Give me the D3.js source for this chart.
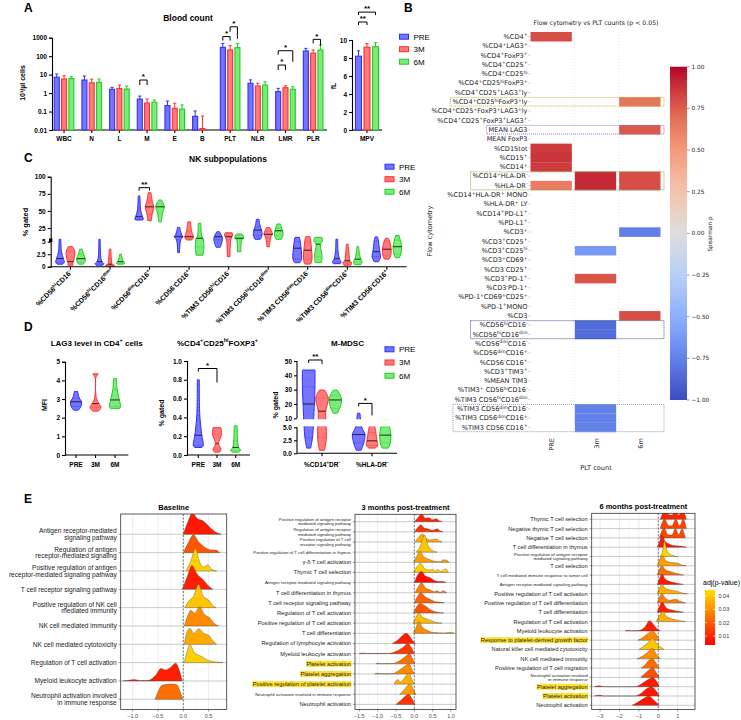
<!DOCTYPE html>
<html lang="en">
<head>
<meta charset="UTF-8">
<title>Blood count, flow cytometry and GSEA ridges</title>
<script src="https://d3js.org/d3.v7.min.js"></script>
<style>
  body { margin: 0; background: #fff; }
  svg { display: block; }
</style>
</head>
<body>
<svg id="fig"></svg>
<script>
// ---------------- data ----------------
// A: blood count (10^3/ul, log axis)
const bcCats   = ["WBC", "N", "L", "M", "E", "B", "PLT", "NLR", "LMR", "PLR"];
const bcPre    = [7.3, 5.1, 1.6, 0.47, 0.21, 0.055, 300, 3.4, 1.2, 190];
const bc3m     = [5.8, 3.6, 1.75, 0.29, 0.15, 0.012, 215, 2.4, 1.95, 145];
const bc6m     = [6.1, 3.8, 1.65, 0.32, 0.135, null, 290, 2.7, 1.6, 215];
const bcPreErr = [10.8, 8.4, 2.05, 0.69, 0.37, 0.107, 490, 5.2, 1.8, 265];
const bc3mErr  = [8.7, 5.6, 2.7, 0.48, 0.28, 0.057, 370, 3.4, 2.5, 215];
const bc6mErr  = [7.7, 5.8, 2.4, 0.42, 0.23, null, 490, 4.1, 2.2, 400];
const bcSig = [
  {cat: 3, a: 0, b: 1, y: 5.1,  la: 5, lb: 5,  txt: "*"},
  {cat: 6, a: 0, b: 1, y: 1150, la: 4, lb: 4,  txt: "*"},
  {cat: 6, a: 1, b: 2, y: 3900, la: 5, lb: 12, txt: "*"},
  {cat: 8, a: 0, b: 1, y: 33,   la: 5, lb: 5,  txt: "*"},
  {cat: 8, a: 0, b: 2, y: 197,  la: 4, lb: 11, txt: "*"},
  {cat: 9, a: 1, b: 2, y: 815,  la: 4, lb: 6,  txt: "*"}
];
const mpvVals = [8.2, 9.2, 9.25];
const mpvErr  = [8.8, 9.6, 9.7];
const mpvSig  = [{a: 0, b: 2, y: 13.1, txt: "**"}, {a: 0, b: 1, y: 12.0, txt: "**"}];
const groups  = ["PRE", "3M", "6M"];

// C: NK subpopulations, violins as [min, q1, median, q3, max]
const nkCats = ["%CD56^{hi}CD16^{-}", "%CD56^{hi}CD16^{dim}", "%CD56^{dim}CD16^{+}", "%CD56^{-}CD16^{+}",
  "%TIM3 CD56^{hi}CD16^{-}", "%TIM3 CD56^{hi}CD16^{dim}", "%TIM3 CD56^{dim}CD16^{-}",
  "%TIM3 CD56^{dim}CD16^{+}", "%TIM3 CD56^{-}CD16^{+}"];
const nkPre = [[0.5,0.9,1.6,3.0,8.5],[0.3,0.6,1.0,1.8,8.5],[36.7,38,41.5,50,71.8],[2.8,8,12.3,15,26],
  [3.9,8,12.3,15,19.6],[8.5,14,22,27,37.7],[0.8,1.5,3.7,5.5,11.4],[0.6,0.9,1.6,3,8.5],[1,2,3,6,12]];
const nk3m  = [[0.3,0.6,1.0,3.0,4.0],[0.13,0.3,0.5,1.5,3.5],[35.7,45,56,62,76.6],[7.5,10,12.3,20,34],
  [2,8,12.3,15,18],[4,12,15.8,20,25.5],[0.53,1.5,3.3,5,12.3],[0.3,0.8,1.2,2.5,4.5],[1.5,2.2,3.5,6,10]];
const nk6m  = [[0.5,0.9,1.6,2.5,3.5],[0.5,0.7,1.0,1.6,2.5],[34,47,56,60,66],[2.3,4,10,13,32],
  [3,8,10,14,16.3],[8.5,14,21,25,30.9],[0.8,2,4.5,5.5,11.4],[0.4,0.9,1.5,2.5,4],[1.8,2.5,4,7,14]];
// relative violin widths at [min, q1, median, q3, max]
const nkPreW = [[0.6,1,0.8,0.35,0.2],[0.8,1,0.6,0.3,0.15],[0.8,1,0.8,0.4,0.2],[0.2,0.5,1,0.7,0.25],
  [0.5,1,0.9,0.7,0.3],[0.6,1,0.9,0.6,0.3],[0.6,1,0.9,0.7,0.5],[0.8,1,0.6,0.3,0.2],[0.5,1,0.8,0.5,0.3]];
const nk3mW  = [[0.6,0.5,0.7,1,0.5],[0.9,1,0.5,0.3,0.2],[0.4,0.6,1,0.7,0.3],[0.6,0.9,1,0.6,0.3],
  [0.3,0.5,0.8,1,0.8],[0.3,0.6,1,0.8,0.4],[0.7,1,0.9,0.7,0.5],[0.8,1,0.6,0.4,0.2],[0.5,0.9,1,0.6,0.3]];
const nk6mW  = [[0.5,0.9,1,0.6,0.3],[0.7,1,0.7,0.4,0.2],[0.3,0.6,1,0.8,0.3],[0.8,1,0.8,0.5,0.3],
  [0.4,0.6,1,0.9,0.6],[0.6,1,0.9,0.7,0.4],[0.7,0.9,0.5,1,0.8],[0.7,1,0.7,0.4,0.2],[0.5,0.8,1,0.7,0.4]];
const nkSig = [{cat: 2, a: 0, b: 1, y: 84, txt: "**"}];

// D
const lagPre = [2.4,2.6,2.85,3.05,3.4], lag3m = [2.35,2.55,2.75,2.95,4.35], lag6m = [2.5,2.6,2.95,3.5,4.1];
const lagW = [[0.4,0.9,1,0.6,0.3],[0.5,1,0.6,0.12,0.35],[0.9,1,0.8,0.4,0.25]];
// the 3M LAG3 violin has a long thin tail: explicit outline [value, relative width]
const lag3mOutline = [[2.35,0.5],[2.55,1],[2.75,0.65],[2.95,0.25],[3.25,0.07],[4.15,0.07],[4.35,0.5]];
const tregPre = [0.08,0.1,0.21,0.42,0.8], treg3m = [0.03,0.06,0.12,0.22,0.29], treg6m = [0.03,0.05,0.08,0.15,0.31];
const tregW = [[0.7,1,0.7,0.3,0.2],[0.5,0.8,0.3,0.9,0.8],[0.6,1,0.6,0.4,0.3]];
const tregSig = {a: 0, b: 1, y: 0.92, la: 3, lb: 14, txt: "*"};
const mdscCats = ["%CD14^{+}DR^{-}", "%HLA-DR^{-}"];
const mdscPre = [[1,3,20,32,43.7],[0.6,2,3.6,5,13.5]];
const mdsc3m  = [[0.6,3,15,24,29.7],[1,1.5,2.4,4,6.3]];
const mdsc6m  = [[13.5,17,22.8,26,29.7],[1,2,3.5,5,9]];
const mdscW = [[[0.3,0.6,0.9,1,1],[0.4,0.7,0.6,1,0.4],[0.3,0.7,1,0.8,0.3]],
               [[0.4,0.8,1,0.5,0.2],[0.5,0.9,0.8,0.6,0.4],[0.5,0.8,0.9,0.7,0.4]]];
const mdscSig = [{cat: 0, a: 0, b: 1, y: 50.7, la: 3, lb: 4, txt: "**"}, {cat: 1, a: 0, b: 1, y: 20.4, la: 3, lb: 12, txt: "*"}];

// B: Spearman rho heatmap
const hmRows = ["%CD4^{+}", "%CD4^{+}LAG3^{+}", "%CD4^{+}FoxP3^{+}", "%CD4^{+}CD25^{+}", "%CD4^{+}CD25^{hi}",
  "%CD4^{+}CD25^{hi}FoxP3^{+}", "%CD4^{+}CD25^{+}LAG3^{+}ly", "%CD4^{+}CD25^{hi}FoxP3^{+}ly",
  "%CD4^{+}CD25^{+}FoxP3^{+}LAG3^{+}ly", "%CD4^{+}CD25^{+}FoxP3^{+}LAG3^{+}", "MEAN LAG3", "MEAN FoxP3",
  "%CD15tot", "%CD15^{+}", "%CD14^{+}", "%CD14^{+}HLA-DR^{-}", "%HLA-DR^{-}", "%CD14^{+}HLA-DR^{+} MONO",
  "%HLA-DR^{+} LY", "%CD14^{+}PD-L1^{+}", "%PD-L1^{+}", "%CD3^{+}", "%CD3^{+}CD25^{+}", "%CD3^{+}CD25^{hi}",
  "%CD3^{+}CD69^{+}", "%CD3^{-}CD25^{+}", "%CD3^{+}PD-1^{+}", "%CD3^{-}PD-1^{+}", "%PD-1^{+}CD69^{+}CD25^{+}",
  "%PD-1^{+}MONO", "%CD3", "%CD56^{hi}CD16^{-}", "%CD56^{hi}CD16^{dim}", "%CD56^{dim}CD16^{-}",
  "%CD56^{dim}CD16^{+}", "%CD56^{-}CD16^{+}", "%CD3^{+}TIM3^{+}", "%MEAN TIM3", "%TIM3^{+} CD56^{hi}CD16^{-}",
  "%TIM3 CD56^{hi}CD16^{dim}", "%TIM3 CD56^{dim}CD16^{-}", "%TIM3 CD56^{dim}CD16^{+}", "%TIM3 CD56^{-}CD16^{+}"];
const hmCols = ["PRE", "3m", "6m"];
const hmPre = [0.8,null,null,null,null,null,null,null,null,null,
  null,null,0.85,0.87,0.85,null,0.63,null,null,null,
  null,null,null,null,null,null,null,null,null,null,
  null,null,null,null,null,null,null,null,null,null,
  null,null,null];
const hm3m = [null,null,null,null,null,null,null,null,null,null,
  null,null,null,null,null,0.9,0.9,null,null,null,
  null,null,null,-0.62,null,null,0.78,null,null,null,
  null,-0.85,-0.85,null,null,null,null,null,null,null,
  -0.75,-0.75,-0.75];
const hm6m = [null,null,null,null,null,null,null,0.66,null,null,
  0.77,null,null,null,null,0.8,0.8,null,null,null,
  null,-0.77,null,null,null,null,null,null,null,null,
  0.8,null,null,null,null,null,null,null,null,null,
  null,null,null];
const hmBoxes = [{rows: [7], color: "#cdb43c"}, {rows: [10], color: "#9a6fd0"}, {rows: [15, 16], color: "#86ad55"},
  {rows: [31, 32], color: "#3f5283"}, {rows: [40, 41, 42], color: "#8c9ec8"}];
const rhoTicks = [1, 0.75, 0.5, 0.25, 0, -0.25, -0.5, -0.75, -1];

// E: ridge plots, ridge = [[log2FC, relative density], ...]
const baseLabels = ["Antigen receptor-mediated\nsignaling pathway", "Regulation of antigen\nreceptor-mediated signaling",
  "Positive regulation of antigen\nreceptor-mediated signaling pathway", "T cell receptor signaling pathway",
  "Positive regulation of NK cell\nmediated immunity", "NK cell mediated immunity", "NK cell mediated cytotoxicity",
  "Regulation of T cell activation", "Myeloid leukocyte activation", "Neutrophil activation involved\nin immune response"];
const baseP = [0.008, 0.019, 0.042, 0.009, 0.040, 0.029, 0.035, 0.042, 0.009, 0.024];
const baseRidges = [
  [[0,0],[0.08,0.6],[0.18,1.15],[0.28,0.85],[0.38,0.75],[0.5,0.45],[0.62,0.15],[0.75,0]],
  [[0,0],[0.1,0.55],[0.2,0.97],[0.3,0.6],[0.42,0.3],[0.55,0.15],[0.64,0.14],[0.72,0]],
  [[0.05,0],[0.15,0.55],[0.24,1.24],[0.32,0.5],[0.4,0.22],[0.48,0.33],[0.56,0.1],[0.66,0]],
  [[-0.02,0],[0.08,0.7],[0.17,1.3],[0.27,0.85],[0.4,0.5],[0.5,0.18],[0.58,0]],
  [[0.03,0],[0.12,0.4],[0.2,0.6],[0.3,1.27],[0.4,0.6],[0.5,0.42],[0.58,0.12],[0.65,0]],
  [[0.02,0],[0.08,0.5],[0.15,0.86],[0.23,0.7],[0.32,1.04],[0.42,0.62],[0.52,0.45],[0.62,0.12],[0.7,0]],
  [[0.02,0],[0.07,0.65],[0.13,0.87],[0.21,0.6],[0.31,0.85],[0.4,0.6],[0.5,0.5],[0.6,0.15],[0.66,0]],
  [[0.02,0],[0.07,0.55],[0.13,0.97],[0.22,0.55],[0.35,0.35],[0.5,0.12],[0.65,0.04],[0.78,0]],
  [[-1.2,0],[-1.05,0.05],[-0.97,0.08],[-0.85,0.02],[-0.7,0.03],[-0.55,0.3],[-0.44,0.68],[-0.35,0.6],[-0.25,0.75],[-0.15,0.97],[-0.08,0.6],[-0.02,0]],
  [[-0.56,0],[-0.5,0.4],[-0.43,0.75],[-0.32,0.82],[-0.2,0.83],[-0.12,0.78],[-0.06,0.4],[-0.01,0]]
];
const m3Labels = ["Positive regulation of antigen receptor\nmediated signaling pathway",
  "Regulation of antigen receptor\nmediated signaling pathway", "Positive regulation of T cell\nreceptor signaling pathway",
  "Positive regulation of T cell differentiation in thymus", "\u03b3-\u03b4 T cell activation", "Thymic T cell selection",
  "Antigen receptor-mediated signaling pathway", "T cell differentiation in thymus", "T cell receptor signaling pathway",
  "Regulation of T cell activation", "Positive regulation of T cell activation", "T cell differentiation",
  "Regulation of lymphocyte activation", "Myeloid leukocyte activation", "Platelet activation", "Platelet aggregation",
  "Positive regulation of platelet activation", "Neutrophil activation involved in immune response", "Neutrophil activation"];
const m3P = [0.010, 0.012, 0.036, 0.040, 0.033, 0.042, 0.006, 0.027, 0.022, 0.019, 0.039, 0.029, 0.009, 0.014, 0.024, 0.029, 0.036, 0.033, 0.013];
const m3Ridges = [
  [[0,0],[0.1,0.4],[0.2,0.75],[0.3,0.35],[0.4,0.4],[0.5,0.2],[0.6,0.3],[0.68,0.1],[0.75,0]],
  [[0,0],[0.1,0.45],[0.18,0.7],[0.28,0.35],[0.37,0.3],[0.5,0.15],[0.62,0.3],[0.7,0.1],[0.78,0]],
  [[0.02,0],[0.12,0.5],[0.22,0.8],[0.32,0.35],[0.45,0.2],[0.6,0.3],[0.68,0.1],[0.76,0]],
  [[0.05,0],[0.15,0.5],[0.28,1.7],[0.38,0.6],[0.5,0.15],[0.62,0]],
  [[-0.02,0],[0.08,0.7],[0.15,1.1],[0.25,0.6],[0.4,0.3],[0.55,0.1],[0.7,0.05],[0.8,0.25],[0.88,0.2],[0.95,0]],
  [[-0.02,0],[0.08,0.6],[0.17,0.9],[0.28,0.4],[0.4,0.25],[0.5,0.3],[0.57,0.15],[0.65,0.3],[0.72,0.1],[0.85,0.35],[0.93,0]],
  [[0,0],[0.1,0.8],[0.2,1.1],[0.3,0.65],[0.42,0.5],[0.55,0.2],[0.68,0.1],[0.8,0.1],[0.86,0]],
  [[0.02,0],[0.1,0.55],[0.2,0.95],[0.3,0.5],[0.42,0.3],[0.55,0.1],[0.62,0.2],[0.7,0.05],[0.8,0.2],[0.88,0]],
  [[0,0],[0.08,0.6],[0.18,1.0],[0.28,0.65],[0.4,0.4],[0.55,0.15],[0.7,0.08],[0.82,0]],
  [[-0.02,0],[0.06,0.6],[0.15,0.95],[0.3,0.7],[0.45,0.3],[0.6,0.1],[0.8,0]],
  [[-0.03,0],[0.05,0.6],[0.12,1.0],[0.22,0.6],[0.35,0.4],[0.5,0.2],[0.62,0.05],[0.75,0]],
  [[-0.02,0],[0.05,0.6],[0.12,1.15],[0.22,0.6],[0.35,0.3],[0.5,0.1],[0.8,0.03],[1.0,0.08],[1.1,0]],
  [[-0.6,0],[-0.45,0.35],[-0.32,0.8],[-0.22,1.0],[-0.12,0.7],[-0.05,0.3],[0.03,0]],
  [[-1.5,0],[-1.42,0.06],[-1.3,0.02],[-0.7,0.02],[-0.45,0.3],[-0.3,0.65],[-0.17,1.0],[-0.08,0.6],[0,0]],
  [[-1.05,0],[-0.98,0.06],[-0.9,0.01],[-0.6,0.02],[-0.4,0.3],[-0.25,0.7],[-0.12,1.0],[-0.05,0.5],[0.02,0]],
  [[-1.08,0],[-1.0,0.07],[-0.92,0.01],[-0.6,0.02],[-0.42,0.35],[-0.28,0.7],[-0.15,1.0],[-0.07,0.5],[0,0]],
  [[-0.55,0],[-0.45,0.45],[-0.38,0.2],[-0.28,0.55],[-0.15,1.1],[-0.07,0.5],[0,0]],
  [[-0.4,0],[-0.3,0.35],[-0.2,0.8],[-0.1,1.0],[-0.03,0.5],[0.04,0]],
  [[-0.5,0],[-0.38,0.35],[-0.25,0.8],[-0.15,1.0],[-0.07,0.6],[0.02,0]]
];
const m6Labels = ["Thymic T cell selection", "Negative thymic T cell selection", "Negative T cell selection",
  "T cell differentiation in thymus", "Positive regulation of antigen receptor\nmediated signaling pathway", "T cell selection",
  "T cell mediated immune response to tumor cell", "Antigen receptor-mediated signaling pathway",
  "Positive regulation of T cell activation", "Positive regulation of T cell differentiation", "T cell differentiation",
  "Regulation of T cell activation", "Myeloid leukocyte activation", "Response to platelet-derived growth factor",
  "Natural killer cell mediated cytotoxicity", "NK cell mediated immunity", "Positive regulation of T cell migration",
  "Neutrophil activation involved\nin immune response", "Platelet aggregation", "Platelet activation", "Neutrophil activation"];
const m6P = [0.010, 0.016, 0.017, 0.008, 0.043, 0.033, 0.024, 0.008, 0.036, 0.027, 0.009, 0.036, 0.009, 0.029, 0.040, 0.030, 0.024, 0.018, 0.008, 0.008, 0.007];
const m6Ridges = [
  [[0.1,0],[0.35,0.9],[0.55,0.5],[0.7,0.45],[0.88,0.9],[1.05,0.45],[1.25,0.9],[1.45,0]],
  [[0.1,0],[0.32,1.0],[0.55,0.3],[0.7,0.3],[0.9,1.0],[1.1,0.3],[1.28,1.0],[1.45,0]],
  [[0.05,0],[0.3,1.1],[0.5,0.35],[0.7,0.3],[0.88,1.0],[1.05,0.35],[1.22,0.95],[1.4,0]],
  [[-0.05,0],[0.1,0.8],[0.2,1.3],[0.35,0.6],[0.6,0.3],[0.9,0.15],[1.2,0.1],[1.45,0]],
  [[0.1,0],[0.22,0.6],[0.32,1.7],[0.45,0.6],[0.7,0.15],[1.0,0]],
  [[-0.05,0],[0.1,0.8],[0.2,1.1],[0.4,0.55],[0.7,0.35],[0.95,0.3],[1.2,0.1],[1.45,0]],
  [[-0.05,0],[0.08,0.7],[0.18,1.0],[0.35,0.6],[0.6,0.4],[0.9,0.2],[1.3,0]],
  [[-0.05,0],[0.08,0.7],[0.2,1.1],[0.35,0.6],[0.6,0.3],[0.9,0.15],[1.3,0]],
  [[-0.05,0],[0.08,0.7],[0.18,1.0],[0.35,0.6],[0.6,0.4],[0.9,0.3],[1.2,0.1],[1.5,0]],
  [[-0.05,0],[0.08,0.7],[0.18,1.0],[0.35,0.55],[0.6,0.3],[0.9,0.4],[1.15,0.15],[1.4,0]],
  [[-0.05,0],[0.1,0.8],[0.2,1.1],[0.4,0.5],[0.7,0.25],[1.0,0.1],[1.3,0]],
  [[-0.1,0],[0.05,0.6],[0.22,1.1],[0.4,0.6],[0.7,0.3],[1.0,0.15],[1.4,0]],
  [[-1.7,0],[-1.55,0.06],[-1.4,0],[-1.0,0.05],[-0.7,0.4],[-0.45,1.1],[-0.25,0.7],[-0.05,0.2],[0.1,0]],
  [[-1.05,0],[-0.8,0.3],[-0.55,0.7],[-0.3,1.0],[-0.1,0.6],[0.05,0]],
  [[-1.0,0],[-0.75,0.35],[-0.5,0.8],[-0.3,1.2],[-0.1,0.7],[0.1,0.3],[0.3,0]],
  [[-1.1,0],[-0.8,0.3],[-0.55,0.7],[-0.3,1.1],[-0.1,0.5],[0.1,0]],
  [[-0.9,0],[-0.7,0.3],[-0.45,0.9],[-0.3,1.0],[-0.1,0.5],[0.05,0]],
  [[-0.9,0],[-0.7,0.4],[-0.45,0.85],[-0.3,1.05],[-0.1,0.5],[0.05,0]],
  [[-3.3,0],[-3.05,0.1],[-2.8,0],[-1.2,0],[-0.8,0.4],[-0.5,0.8],[-0.3,1.0],[-0.1,0.6],[0.05,0]],
  [[-3.3,0],[-3.05,0.08],[-2.8,0],[-1.2,0],[-0.85,0.35],[-0.55,0.85],[-0.35,1.0],[-0.1,0.5],[0.05,0]],
  [[-1.35,0],[-1.0,0.4],[-0.7,0.8],[-0.5,1.0],[-0.25,0.6],[0.05,0]]
];
const highlighted = ["Platelet activation", "Platelet aggregation", "Positive regulation of platelet activation",
  "Response to platelet-derived growth factor"];
const pTicks = [0.04, 0.03, 0.02, 0.01];

// ---------------- helpers ----------------
const FONT = "'Liberation Sans', Arial, Helvetica, sans-serif";
const MPL = "'DejaVu Sans', sans-serif";
const serStroke = ["#2f2fff", "#ff2f2f", "#22cc22"];
const serFill = ["#7575ff", "#ff7a7a", "#79ec79"];

const svg = d3.select("#fig").attr("width", 741).attr("height", 720)
  .attr("font-family", FONT);

// text with ^{...} superscripts
function rich(t, s, fs) {
  const parts = s.split(/(\^\{[^}]*\})/).filter(p => p !== "");
  let up = false;
  parts.forEach(p => {
    const m = p.match(/^\^\{([^}]*)\}$/);
    if (m) {
      t.append("tspan").attr("dy", -fs * 0.38).attr("font-size", fs * 0.68).text(m[1]);
      up = true;
    } else {
      const ts = t.append("tspan").text(p);
      if (up) { ts.attr("dy", fs * 0.38); up = false; }
    }
  });
}
function txt(g, x, y, s, o = {}) {
  const fs = o.fs || 7;
  const t = g.append("text").attr("x", x).attr("y", y).attr("font-size", fs)
    .attr("font-weight", o.bold ? 700 : 400).attr("text-anchor", o.anchor || "start")
    .attr("fill", o.fill || "#000");
  if (o.family) t.attr("font-family", o.family);
  if (o.rot) t.attr("transform", `rotate(${o.rot},${x},${y})`);
  rich(t, s, fs);
  return t;
}
function styleAxis(g, fs = 6.5) {
  g.attr("font-size", fs).attr("font-family", FONT).attr("font-weight", 700);
  g.selectAll(".domain").attr("stroke-width", 1.1);
  g.selectAll(".tick line").attr("stroke-width", 1.1);
  g.selectAll(".tick text").attr("fill", "#000");
}
function bracket(g, x1, x2, y, la, lb, label) {
  g.append("path").attr("d", `M${x1},${y + la}V${y}H${x2}V${y + lb}`)
    .attr("fill", "none").attr("stroke", "#000").attr("stroke-width", 1);
  txt(g, (x1 + x2) / 2, y - 0.8, label, {fs: 8, bold: true, anchor: "middle"});
}
function legend(g, x, y0, dy) {
  groups.forEach((s, k) => {
    g.append("rect").attr("x", x).attr("y", y0 + k * dy - 2.5).attr("width", 9).attr("height", 5)
      .attr("fill", serFill[k]).attr("stroke", serStroke[k]).attr("stroke-width", 1);
    txt(g, x + 14, y0 + k * dy + 2.8, s, {fs: 8});
  });
}
function violin(g, cx, summ, widths, y, halfW, k, outline) {
  const pts = outline ? outline.map(d => ({v: d[0], w: d[1] * halfW}))
                      : summ.map((v, i) => ({v, w: widths[i] * halfW}));
  const area = d3.area().curve(d3.curveCatmullRom.alpha(0.5))
    .y(d => y(d.v)).x0(d => cx - d.w).x1(d => cx + d.w);
  g.append("path").attr("d", area(pts)).attr("fill", serFill[k])
    .attr("stroke", serStroke[k]).attr("stroke-width", 1);
  [1, 2, 3].forEach(i => {
    const w = widths[i] * halfW;
    g.append("line").attr("x1", cx - w).attr("x2", cx + w).attr("y1", y(summ[i])).attr("y2", y(summ[i]))
      .attr("stroke", i === 2 ? "#1a1a1a" : serStroke[k]).attr("stroke-width", i === 2 ? 0.9 : 0.6)
      .attr("stroke-dasharray", i === 2 ? null : "1,1");
  });
}
function xAxisLine(g, x1, x2, y, ticks) {
  g.append("line").attr("x1", x1).attr("x2", x2).attr("y1", y).attr("y2", y)
    .attr("stroke", "#000").attr("stroke-width", 1.1);
  ticks.forEach(t => g.append("line").attr("x1", t).attr("x2", t).attr("y1", y).attr("y2", y + 3)
    .attr("stroke", "#000").attr("stroke-width", 1.1));
}

// ---------------- A ----------------
const gA = svg.append("g");
txt(gA, 24, 12, "A", {fs: 12, bold: true});
txt(gA, 188, 21, "Blood count", {fs: 8.5, bold: true, anchor: "middle"});
const yA = d3.scaleLog().domain([0.01, 1000]).range([130, 37.7]);
const xA = d3.scaleBand().domain(bcCats).range([50.2, 327]);
const offA = d3.scalePoint().domain([0, 1, 2]).range([-7.3, 7.3]);
gA.append("g").attr("transform", "translate(52,0)")
  .call(d3.axisLeft(yA).tickValues([0.01, 0.1, 1, 10, 100, 1000]).tickFormat(d => String(d)).tickSize(3).tickPadding(2))
  .call(styleAxis);
xAxisLine(gA, 52, 327, 130, bcCats.map(c => xA(c) + xA.bandwidth() / 2));
bcCats.forEach(c => txt(gA, xA(c) + xA.bandwidth() / 2, 141, c, {fs: 6.5, bold: true, anchor: "middle"}));
txt(gA, 25, 83, "10\u00b3/\u00b5l cells", {fs: 7, bold: true, anchor: "middle", rot: -90});
[bcPre, bc3m, bc6m].forEach((arr, k) => {
  const errs = [bcPreErr, bc3mErr, bc6mErr][k];
  arr.forEach((v, i) => {
    if (v == null) return;
    const cx = xA(bcCats[i]) + xA.bandwidth() / 2 + offA(k);
    gA.append("line").attr("x1", cx).attr("x2", cx).attr("y1", yA(v)).attr("y2", yA(errs[i]))
      .attr("stroke", serStroke[k]).attr("stroke-width", 1);
    gA.append("line").attr("x1", cx - 1.6).attr("x2", cx + 1.6).attr("y1", yA(errs[i])).attr("y2", yA(errs[i]))
      .attr("stroke", serStroke[k]).attr("stroke-width", 1);
    gA.append("rect").attr("x", cx - 2.5).attr("width", 5).attr("y", yA(v)).attr("height", 130 - yA(v))
      .attr("fill", serFill[k]).attr("stroke", serStroke[k]).attr("stroke-width", 1.1);
  });
});
bcSig.forEach(s => {
  const c = xA(bcCats[s.cat]) + xA.bandwidth() / 2;
  bracket(gA, c + offA(s.a), c + offA(s.b), yA(s.y), s.la, s.lb, s.txt);
});
// MPV
const yM = d3.scaleLinear().domain([0, 10]).range([130, 40]);
const xM = d3.scalePoint().domain([0, 1, 2]).range([358.5, 375.5]);
gA.append("g").attr("transform", "translate(352,0)")
  .call(d3.axisLeft(yM).tickValues([0, 2, 4, 6, 8, 10]).tickSize(3).tickPadding(2))
  .call(styleAxis);
xAxisLine(gA, 352, 382, 130, [367]);
txt(gA, 367, 141, "MPV", {fs: 6.5, bold: true, anchor: "middle"});
txt(gA, 336, 86, "fL", {fs: 7, bold: true, anchor: "middle", rot: -90});
mpvVals.forEach((v, k) => {
  const cx = xM(k);
  gA.append("line").attr("x1", cx).attr("x2", cx).attr("y1", yM(v)).attr("y2", yM(mpvErr[k])).attr("stroke", serStroke[k]);
  gA.append("line").attr("x1", cx - 1.6).attr("x2", cx + 1.6).attr("y1", yM(mpvErr[k])).attr("y2", yM(mpvErr[k])).attr("stroke", serStroke[k]);
  gA.append("rect").attr("x", cx - 3).attr("width", 6).attr("y", yM(v)).attr("height", 130 - yM(v))
    .attr("fill", serFill[k]).attr("stroke", serStroke[k]).attr("stroke-width", 1.1);
});
mpvSig.forEach(s => bracket(gA, xM(s.a), xM(s.b), yM(s.y), 3, 3, s.txt));
legend(gA, 399.5, 36.7, 12.5);

// ---------------- C ----------------
const gC = svg.append("g");
txt(gC, 24, 162, "C", {fs: 12, bold: true});
txt(gC, 228, 162, "NK subpopulations", {fs: 8.5, bold: true, anchor: "middle"});
const yC = d3.scaleLinear().domain([0, 5, 100]).range([266.7, 241.7, 176.7]);
const xC = d3.scaleBand().domain(nkCats).range([50.7, 406.6]);
const offC = d3.scalePoint().domain([0, 1, 2]).range([-10.5, 10.5]);
gC.append("g").attr("transform", "translate(50.7,0)")
  .call(d3.axisLeft(yC).tickValues([0, 2.5, 5, 25, 50, 75, 100]).tickFormat(d => String(d)).tickSize(3).tickPadding(2))
  .call(styleAxis);
gC.append("rect").attr("x", 49).attr("y", 238.5).attr("width", 3.4).attr("height", 3.4).attr("fill", "#000");
txt(gC, 28, 222, "% gated", {fs: 7.5, bold: true, anchor: "middle", rot: -90});
[nkPre, nk3m, nk6m].forEach((arr, k) => {
  const ws = [nkPreW, nk3mW, nk6mW][k];
  arr.forEach((s, i) => violin(gC, xC(nkCats[i]) + xC.bandwidth() / 2 + offC(k), s, ws[i], yC, 4.3, k));
});
xAxisLine(gC, 50.7, 406.6, 266.7, nkCats.map(c => xC(c) + xC.bandwidth() / 2));
nkCats.forEach(c => txt(gC, xC(c) + xC.bandwidth() / 2 + 2, 273, c, {fs: 7, bold: true, anchor: "end", rot: -45}));
nkSig.forEach(s => {
  const c = xC(nkCats[s.cat]) + xC.bandwidth() / 2;
  bracket(gC, c + offC(s.a), c + offC(s.b), yC(s.y), 3, 3, s.txt);
});
legend(gC, 385, 166.7, 12.5);

// ---------------- D ----------------
const gD = svg.append("g");
txt(gD, 24, 331, "D", {fs: 12, bold: true});
txt(gD, 96.7, 345.5, "LAG3 level in CD4^{+} cells", {fs: 8, bold: true, anchor: "middle"});
txt(gD, 217.5, 345.5, "%CD4^{+}CD25^{hi}FOXP3^{+}", {fs: 8, bold: true, anchor: "middle"});
txt(gD, 347.5, 345.5, "M-MDSC", {fs: 8, bold: true, anchor: "middle"});
// D1
const yD1 = d3.scaleLinear().domain([0, 5]).range([455, 361.7]);
const xD1 = d3.scalePoint().domain(groups).range([76, 115]);
gD.append("g").attr("transform", "translate(65,0)")
  .call(d3.axisLeft(yD1).ticks(5).tickSize(3).tickPadding(2)).call(styleAxis);
[lagPre, lag3m, lag6m].forEach((s, k) => violin(gD, xD1(groups[k]), s, lagW[k], yD1, 5.5, k, k === 1 ? lag3mOutline : null));
xAxisLine(gD, 65, 128.3, 455, groups.map(g => xD1(g)));
groups.forEach(g => txt(gD, xD1(g), 466.5, g, {fs: 6.5, bold: true, anchor: "middle"}));
txt(gD, 46.7, 405, "MFI", {fs: 7, bold: true, anchor: "middle", rot: -90});
// D2
const yD2 = d3.scaleLinear().domain([0, 1]).range([455, 361]);
const xD2 = d3.scalePoint().domain(groups).range([198.3, 235.7]);
gD.append("g").attr("transform", "translate(187,0)")
  .call(d3.axisLeft(yD2).tickValues([0, 0.2, 0.4, 0.6, 0.8, 1]).tickFormat(d3.format(".1f")).tickSize(3).tickPadding(2))
  .call(styleAxis);
[tregPre, treg3m, treg6m].forEach((s, k) => violin(gD, xD2(groups[k]), s, tregW[k], yD2, 5, k));
xAxisLine(gD, 187, 250, 455, groups.map(g => xD2(g)));
groups.forEach(g => txt(gD, xD2(g), 466.5, g, {fs: 6.5, bold: true, anchor: "middle"}));
txt(gD, 164, 413, "% gated", {fs: 7, bold: true, anchor: "middle", rot: -90});
bracket(gD, xD2(groups[tregSig.a]), xD2(groups[tregSig.b]), yD2(tregSig.y), tregSig.la, tregSig.lb, tregSig.txt);
// D3 (broken axis)
const yD3 = d3.scaleLinear().domain([0, 5, 10, 50]).range([453.3, 427.3, 418.3, 361]);
const xD3 = d3.scaleBand().domain(mdscCats).range([297, 397]);
const offD3 = d3.scalePoint().domain([0, 1, 2]).range([-13.3, 13.3]);
const axD3 = gD.append("g").attr("transform", "translate(297,0)")
  .call(d3.axisLeft(yD3).tickValues([0, 2.5, 5, 10, 20, 30, 40, 50])
    .tickFormat(d => d <= 5 ? d3.format(".1f")(d) : String(d)).tickSize(3).tickPadding(2))
  .call(styleAxis);
axD3.select(".domain").remove();
[[yD3(0), yD3(5)], [yD3(10), yD3(50)]].forEach(([a, b]) =>
  gD.append("line").attr("x1", 297).attr("x2", 297).attr("y1", a).attr("y2", b).attr("stroke", "#000").attr("stroke-width", 1.1));
[mdscPre, mdsc3m, mdsc6m].forEach((arr, k) => arr.forEach((s, i) =>
  violin(gD, xD3(mdscCats[i]) + xD3.bandwidth() / 2 + offD3(k), s, mdscW[i][k], yD3, 6.3, k)));
gD.append("rect").attr("x", 298).attr("y", yD3(10) + 1).attr("width", 99).attr("height", yD3(5) - yD3(10) - 2).attr("fill", "#fff");
xAxisLine(gD, 297, 397, 453.3, mdscCats.map(c => xD3(c) + xD3.bandwidth() / 2));
mdscCats.forEach(c => txt(gD, xD3(c) + xD3.bandwidth() / 2, 466.5, c, {fs: 6.5, bold: true, anchor: "middle"}));
txt(gD, 278, 405, "% gated", {fs: 7, bold: true, anchor: "middle", rot: -90});
mdscSig.forEach(s => {
  const c = xD3(mdscCats[s.cat]) + xD3.bandwidth() / 2;
  bracket(gD, c + offD3(s.a), c + offD3(s.b), yD3(s.y), s.la, s.lb, s.txt);
});
legend(gD, 385, 349.3, 13.2);

// ---------------- B ----------------
const gB = svg.append("g").attr("font-family", MPL);
txt(gB, 404, 12, "B", {fs: 12, bold: true, family: FONT});
const xH = d3.scaleBand().domain(hmCols).range([530, 663]);
const yH = d3.scaleBand().domain(d3.range(hmRows.length)).range([32, 432]);
const cool = d3.piecewise(d3.interpolateRgb, ["#3b4cc0", "#6282ea", "#8db0fe", "#b8d0f9", "#dddddd",
  "#f5c4ad", "#f49a7b", "#de604d", "#b40426"]);
const rhoColor = v => cool((v + 1) / 2);
txt(gB, 596, 25, "Flow cytometry vs PLT counts (p < 0.05)", {fs: 6.2, anchor: "middle", fill: "#222", family: MPL});
[xH("3m"), xH("6m")].forEach(x => gB.append("line").attr("x1", x).attr("x2", x).attr("y1", 32).attr("y2", 432)
  .attr("stroke", "#dcdcdc").attr("stroke-width", 0.6).attr("stroke-dasharray", "1,2"));
[hmPre, hm3m, hm6m].forEach((arr, c) => arr.forEach((v, i) => {
  if (v == null) return;
  gB.append("rect").attr("x", xH(hmCols[c]) + 0.5).attr("y", yH(i)).attr("width", xH.bandwidth() - 3)
    .attr("height", yH.bandwidth() + 0.2).attr("fill", rhoColor(v));
}));
const rowText = hmRows.map((r, i) => {
  const yc = yH(i) + yH.bandwidth() / 2;
  gB.append("line").attr("x1", 528.5).attr("x2", 530.5).attr("y1", yc).attr("y2", yc).attr("stroke", "#999").attr("stroke-width", 0.5);
  return txt(gB, 527.5, yc + 2.3, r, {fs: 6.6, anchor: "end", fill: "#222", family: MPL});
});
hmBoxes.forEach(b => {
  const left = d3.min(b.rows, i => rowText[i].node().getBBox().x) - 2;
  const top = yH(b.rows[0]) + 0.3;
  const h = yH.bandwidth() * b.rows.length - 0.6;
  gB.append("rect").attr("x", left).attr("y", top).attr("width", 664 - left).attr("height", h)
    .attr("fill", "none").attr("stroke", b.color).attr("stroke-width", 1).attr("stroke-dasharray", "1,1");
});
hmCols.forEach(c => txt(gB, xH(c) + xH.bandwidth() / 2 + 2.3, 438, c, {fs: 6.6, anchor: "end", rot: -90, fill: "#222", family: MPL}));
txt(gB, 596, 470, "PLT count", {fs: 6.6, anchor: "middle", fill: "#222", family: MPL});
txt(gB, 432, 231, "Flow cytometry", {fs: 6.6, anchor: "middle", rot: -90, fill: "#222", family: MPL});
// colorbar
const yCb = d3.scaleLinear().domain([1, -1]).range([66.7, 400]);
const grad = svg.append("defs").append("linearGradient").attr("id", "rhoGrad")
  .attr("x1", 0).attr("x2", 0).attr("y1", 0).attr("y2", 1);
d3.range(0, 1.0001, 0.05).forEach(t => grad.append("stop").attr("offset", t).attr("stop-color", rhoColor(1 - 2 * t)));
gB.append("rect").attr("x", 670).attr("y", yCb(1)).attr("width", 17).attr("height", yCb(-1) - yCb(1)).attr("fill", "url(#rhoGrad)");
rhoTicks.forEach(v => {
  gB.append("line").attr("x1", 687).attr("x2", 689.5).attr("y1", yCb(v)).attr("y2", yCb(v)).attr("stroke", "#333").attr("stroke-width", 0.5);
  txt(gB, 691.5, yCb(v) + 2.1, d3.format(".2f")(v).replace("-", "\u2212"), {fs: 5.8, fill: "#222", family: MPL});
});
txt(gB, 712, 234, "Spearman \u03c1", {fs: 5.8, anchor: "middle", rot: -90, fill: "#222", family: MPL});

// ---------------- E ----------------
const gE = svg.append("g");
txt(gE, 24, 502.5, "E", {fs: 12, bold: true});
const pColor = d3.scaleLinear().domain([0.0033, 0.0445]).range(["#ff0000", "#ffdd00"]).clamp(true);
function ridgePanel(o) {
  const g = gE.append("g");
  const x = d3.scaleLinear().domain(o.domain).range([o.left, o.right]);
  const y = d3.scalePoint().domain(d3.range(o.labels.length)).range(o.rows);
  const step = y.step();
  txt(g, (o.left + o.right) / 2, o.top - 4.5, o.title, {fs: 7.5, bold: true, anchor: "middle"});
  o.minor.forEach(v => g.append("line").attr("x1", x(v)).attr("x2", x(v)).attr("y1", o.top).attr("y2", o.bottom)
    .attr("stroke", "#f2f2f2").attr("stroke-width", 0.5));
  o.ticks.forEach(v => g.append("line").attr("x1", x(v)).attr("x2", x(v)).attr("y1", o.top).attr("y2", o.bottom)
    .attr("stroke", "#e2e2e2").attr("stroke-width", 0.6));
  o.labels.forEach((l, i) => g.append("line").attr("x1", o.left).attr("x2", o.right).attr("y1", y(i)).attr("y2", y(i))
    .attr("stroke", "#b5b5b5").attr("stroke-width", 0.7));
  const clip = g.append("clipPath").attr("id", "clip" + o.id);
  clip.append("rect").attr("x", o.left).attr("y", o.top).attr("width", o.right - o.left).attr("height", o.bottom - o.top);
  const rg = g.append("g").attr("clip-path", `url(#clip${o.id})`);
  const area = d3.area().curve(d3.curveMonotoneX).x(d => x(d[0])).y0(0).y1(d => -d[1] * step);
  o.ridges.forEach((r, i) => rg.append("path").attr("transform", `translate(0,${y(i)})`).attr("d", area(r))
    .attr("fill", pColor(o.p[i])).attr("stroke", "#3a3a3a").attr("stroke-width", 0.35));
  g.append("line").attr("x1", x(0)).attr("x2", x(0)).attr("y1", o.top).attr("y2", o.bottom)
    .attr("stroke", "#555").attr("stroke-width", 0.8).attr("stroke-dasharray", "2,1.5");
  g.append("rect").attr("x", o.left).attr("y", o.top).attr("width", o.right - o.left).attr("height", o.bottom - o.top)
    .attr("fill", "none").attr("stroke", "#333").attr("stroke-width", 0.8);
  o.labels.forEach((l, i) => {
    const fs = o.small.includes(i) ? o.smallFs : o.fs;
    const lines = l.split("\n");
    const t = g.append("text").attr("font-size", fs).attr("text-anchor", "end").attr("fill", "#1a1a1a");
    lines.forEach((ln, j) => t.append("tspan").attr("x", o.left - 4)
      .attr("y", y(i) + (j - (lines.length - 1) / 2) * fs * 1.0 + fs * 0.35).text(ln));
    if (highlighted.includes(l)) {
      const bb = t.node().getBBox();
      g.insert("rect", () => t.node()).attr("x", bb.x - 0.5).attr("y", bb.y).attr("width", bb.width + 1)
        .attr("height", bb.height).attr("fill", "#ffe135");
    }
    g.append("line").attr("x1", o.left - 2).attr("x2", o.left).attr("y1", y(i)).attr("y2", y(i)).attr("stroke", "#333").attr("stroke-width", 0.5);
  });
  o.ticks.forEach(v => {
    g.append("line").attr("x1", x(v)).attr("x2", x(v)).attr("y1", o.bottom).attr("y2", o.bottom + 2).attr("stroke", "#333").attr("stroke-width", 0.5);
    txt(g, x(v), o.bottom + 8, o.fmt(v), {fs: 5.5, anchor: "middle", fill: "#4d4d4d"});
  });
}
ridgePanel({id: "b", title: "Baseline", left: 120.7, right: 226.7, top: 514, bottom: 709.5, domain: [-1.237, 0.858],
  rows: [534.3, 699.3], labels: baseLabels, p: baseP, ridges: baseRidges, fs: 6.6, small: [], smallFs: 6.6,
  ticks: [-1, -0.5, 0, 0.5], minor: [-0.75, -0.25, 0.25, 0.75], fmt: d3.format(".1f")});
ridgePanel({id: "m3", title: "3 months post-treatment", left: 355, right: 456, top: 514.3, bottom: 709.5, domain: [-1.616, 1.136],
  rows: [521.7, 704.4], labels: m3Labels, p: m3P, ridges: m3Ridges, fs: 5.7, small: [0, 1, 2, 3, 6, 17], smallFs: 4.3,
  ticks: [-1.5, -1, -0.5, 0, 0.5, 1], minor: [-1.25, -0.75, -0.25, 0.25, 0.75], fmt: d3.format(".1f")});
ridgePanel({id: "m6", title: "6 months post-treatment", left: 591.7, right: 695, top: 513.3, bottom: 709.5, domain: [-3.433, 1.892],
  rows: [519.3, 705.3], labels: m6Labels, p: m6P, ridges: m6Ridges, fs: 5.7, small: [4, 6, 7, 17], smallFs: 4.4,
  ticks: [-3, -2, -1, 0, 1], minor: [-2.5, -1.5, -0.5, 0.5, 1.5], fmt: d3.format("d")});
// p-value colorbar
const yP = d3.scaleLinear().domain([0.0033, 0.0445]).range([645, 590]);
const pg = svg.select("defs").append("linearGradient").attr("id", "pGrad")
  .attr("x1", 0).attr("x2", 0).attr("y1", 0).attr("y2", 1);
d3.range(0, 1.0001, 0.1).forEach(t => pg.append("stop").attr("offset", t).attr("stop-color", pColor(yP.invert(590 + 55 * t))));
gE.append("rect").attr("x", 705).attr("y", 590).attr("width", 10).attr("height", 55).attr("fill", "url(#pGrad)");
pTicks.forEach(v => {
  gE.append("line").attr("x1", 705).attr("x2", 707).attr("y1", yP(v)).attr("y2", yP(v)).attr("stroke", "#fff").attr("stroke-width", 0.6);
  gE.append("line").attr("x1", 713).attr("x2", 715).attr("y1", yP(v)).attr("y2", yP(v)).attr("stroke", "#fff").attr("stroke-width", 0.6);
  txt(gE, 718.5, yP(v) + 2, String(v), {fs: 5.5, fill: "#333"});
});
txt(gE, 703, 585, "adj(p-value)", {fs: 7});
</script>
</body>
</html>
